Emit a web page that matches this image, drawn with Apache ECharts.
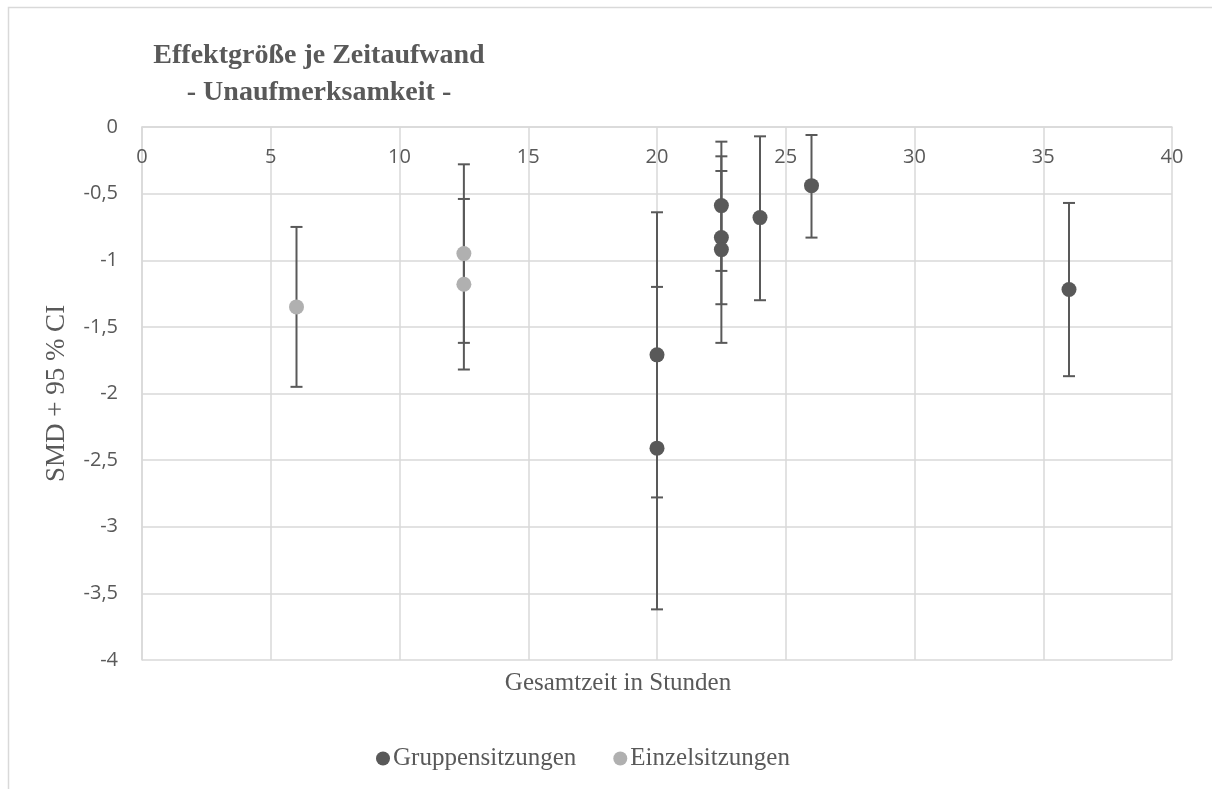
<!DOCTYPE html>
<html>
<head>
<meta charset="utf-8">
<script src="https://cdn.jsdelivr.net/npm/echarts@6/dist/echarts.min.js"></script>
<style>
  html, body { margin: 0; padding: 0; background: #fff; }
  #chart { width: 1212px; height: 789px; }
</style>
</head>
<body>
<div id="chart"></div>
<script>
// Gruppensitzungen: time (hours), SMD and 95 % CI
const gruppeX = [20, 20, 22.5, 22.5, 22.5, 24, 26, 36];
const gruppeSMD = [-1.71, -2.41, -0.59, -0.83, -0.92, -0.68, -0.44, -1.22];
const gruppeLower = [-2.78, -3.62, -1.08, -1.33, -1.62, -1.30, -0.83, -1.87];
const gruppeUpper = [-0.64, -1.20, -0.11, -0.33, -0.22, -0.07, -0.06, -0.57];

// Einzelsitzungen
const einzelX = [6, 12.5, 12.5];
const einzelSMD = [-1.35, -0.95, -1.18];
const einzelLower = [-1.95, -1.62, -1.82];
const einzelUpper = [-0.75, -0.28, -0.54];

const seriesNames = ['Gruppensitzungen', 'Einzelsitzungen'];

const textColor = '#595959';
const gridColor = '#d9d9d9';
const serif = '"Liberation Serif", "DejaVu Serif", serif';
const sans = '"Open Sans", "Noto Sans", sans-serif';

function zip(xs, a, b) {
  return xs.map((x, i) => (b ? [x, a[i], b[i]] : [x, a[i]]));
}

function renderErrorBar(params, api) {
  const x = api.value(0);
  const lo = api.coord([x, api.value(1)]);
  const hi = api.coord([x, api.value(2)]);
  const cap = 6;
  const style = { stroke: textColor, lineWidth: 2 };
  return {
    type: 'group',
    children: [
      { type: 'line', shape: { x1: lo[0], y1: lo[1], x2: hi[0], y2: hi[1] }, style: style },
      { type: 'line', shape: { x1: lo[0] - cap, y1: lo[1], x2: lo[0] + cap, y2: lo[1] }, style: style },
      { type: 'line', shape: { x1: hi[0] - cap, y1: hi[1], x2: hi[0] + cap, y2: hi[1] }, style: style }
    ]
  };
}

const chart = echarts.init(document.getElementById('chart'));

const option = {
  backgroundColor: '#fff',
  animation: false,
  grid: { left: 142, right: 40, top: 127, bottom: 129 },
  graphic: [
    {
      type: 'polyline', z: -10, silent: true,
      shape: { points: [[8.5, 800], [8.5, 7.5], [1220, 7.5]] },
      style: { fill: 'none', stroke: gridColor, lineWidth: 1.5 }
    },
    {
      type: 'text', x: 319, y: 56,
      style: {
        text: 'Effektgröße je Zeitaufwand', fill: textColor,
        font: 'bold 28px ' + serif, align: 'center', verticalAlign: 'middle'
      }
    },
    {
      type: 'text', x: 319, y: 93,
      style: {
        text: '- Unaufmerksamkeit -', fill: textColor,
        font: 'bold 28px ' + serif, align: 'center', verticalAlign: 'middle'
      }
    },
    {
      type: 'text', x: 618, y: 683,
      style: {
        text: 'Gesamtzeit in Stunden', fill: textColor,
        font: '25px ' + serif, align: 'center', verticalAlign: 'middle'
      }
    }
  ],
  legend: {
    data: seriesNames,
    left: 371,
    top: 741,
    icon: 'circle',
    itemWidth: 14,
    itemHeight: 14,
    itemGap: 37,
    textStyle: { color: textColor, fontFamily: serif, fontSize: 25, padding: [0, 0, 0, -2] }
  },
  xAxis: {
    type: 'value',
    position: 'top',
    min: 0,
    max: 40,
    interval: 5,
    axisLine: { show: true, onZero: false, lineStyle: { color: gridColor, width: 1.5 } },
    axisTick: { show: false },
    axisLabel: { inside: true, margin: 20, color: textColor, fontFamily: sans, fontSize: 20 },
    splitLine: { show: true, lineStyle: { color: gridColor, width: 1.5 } }
  },
  yAxis: {
    type: 'value',
    min: -4,
    max: 0,
    interval: 0.5,
    name: 'SMD + 95 % CI',
    nameLocation: 'middle',
    nameGap: 72,
    nameTextStyle: { color: textColor, fontFamily: serif, fontSize: 27 },
    axisLine: { show: true, onZero: false, lineStyle: { color: gridColor, width: 1.5 } },
    axisTick: { show: false },
    axisLabel: {
      margin: 24, color: textColor, fontFamily: sans, fontSize: 20,
      formatter: v => String(v).replace('.', ',')
    },
    splitLine: { show: true, lineStyle: { color: gridColor, width: 1.5 } }
  },
  series: [
    {
      name: 'Gruppensitzungen CI',
      type: 'custom',
      renderItem: renderErrorBar,
      data: zip(gruppeX, gruppeLower, gruppeUpper),
      encode: { x: 0, y: [1, 2] },
      z: 2
    },
    {
      name: 'Einzelsitzungen CI',
      type: 'custom',
      renderItem: renderErrorBar,
      data: zip(einzelX, einzelLower, einzelUpper),
      encode: { x: 0, y: [1, 2] },
      z: 2
    },
    {
      name: seriesNames[0],
      type: 'scatter',
      symbolSize: 15,
      itemStyle: { color: '#595959', opacity: 1 },
      data: zip(gruppeX, gruppeSMD),
      z: 3
    },
    {
      name: seriesNames[1],
      type: 'scatter',
      symbolSize: 15,
      itemStyle: { color: '#b0b0b0', opacity: 1 },
      data: zip(einzelX, einzelSMD),
      z: 3
    }
  ]
};

chart.setOption(option);
</script>
</body>
</html>
